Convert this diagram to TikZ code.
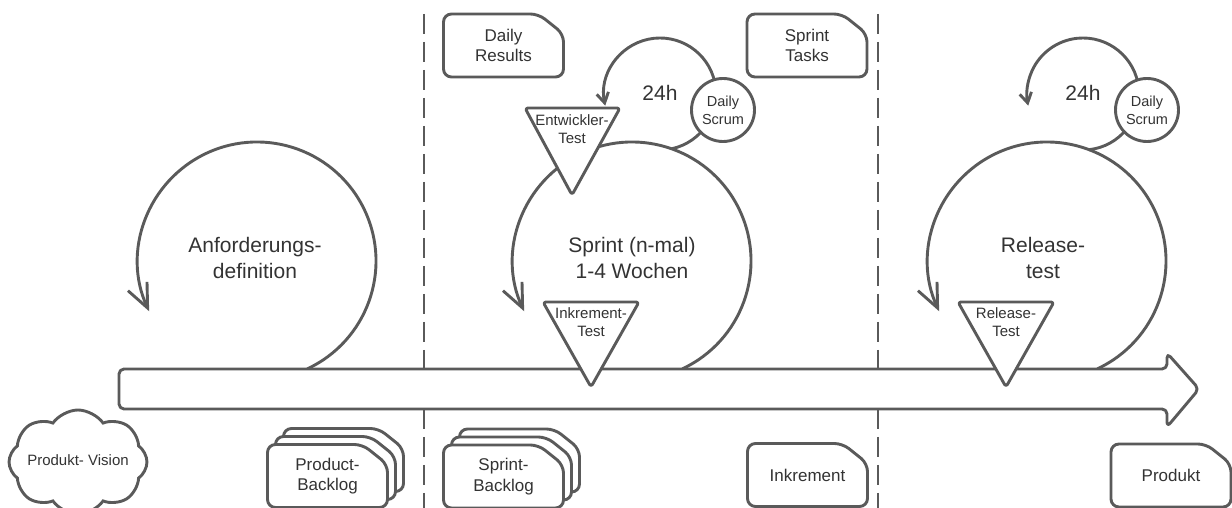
\documentclass[tikz,border=0pt]{standalone}
\usepackage{fontspec}
\setmainfont{Liberation Sans}
\usetikzlibrary{arrows.meta,shapes.symbols}
\definecolor{ink}{RGB}{90,90,90}
\definecolor{txt}{RGB}{51,51,51}

\begin{document}
\begin{tikzpicture}[x=1pt,y=1pt,
  line/.style={draw=ink, line width=2.9pt},
  bigloop/.style={line, -{Straight Barb[length=24pt,width=21pt]}},
  dayloop/.style={line, -{Straight Barb[length=10pt,width=12pt]}},
  sepline/.style={draw=ink, line width=2.2pt, dash pattern=on 20pt off 8pt},
  tri/.style={line, fill=white, rounded corners=3pt, line join=round},
  bigtxt/.style={text=txt, align=center, font=\fontsize{21}{26}\selectfont},
  doctxt/.style={text=txt, align=center, font=\fontsize{17}{20.5}\selectfont},
  smalltxt/.style={text=txt, align=center, font=\fontsize{15}{18}\selectfont, inner sep=0pt},
  scrum/.style={circle, line, fill=white, minimum size=63pt, inner sep=0pt,
    text=txt, align=center, font=\fontsize{14.5}{18}\selectfont},
  pics/docshape/.style={code={
    \draw[line, fill=white, rounded corners=8pt, line join=round]
      (-60,-31.5) -- (-60,31.5) -- (35,31.5) -- (60,11.5) -- (60,-31.5) -- cycle;}}
]
\useasboundingbox (0,0) rectangle (1232,508);

% phase separators (interrupted by the timeline)
\draw[sepline] (424,494) -- (424,139);
\draw[sepline] (424,99) -- (424,0);
\draw[sepline] (878,494) -- (878,139);
\draw[sepline] (878,99) -- (878,0);

% main phase loops
\coordinate (anfC) at (257,247);
\coordinate (sprC) at (632,247);
\coordinate (relC) at (1047,247);
\draw[bigloop] ([shift={(-65:119)}]anfC) arc[start angle=-65, end angle=205, radius=119];
\draw[bigloop] ([shift={(-65:119)}]sprC) arc[start angle=-65, end angle=205, radius=119];
\draw[bigloop] ([shift={(-65:119)}]relC) arc[start angle=-65, end angle=205, radius=119];

% daily loops
\coordinate (daySpr) at (660,414);
\coordinate (dayRel) at (1083,414);
\draw[dayloop] ([shift={(-78:56)}]daySpr) arc[start angle=-78, end angle=192, radius=56];
\draw[dayloop] ([shift={(-84:56)}]dayRel) arc[start angle=-84, end angle=192, radius=56];

\node[scrum] (ds1) at (723,398) {Daily\\Scrum};
\node[scrum] (ds2) at (1147,398) {Daily\\Scrum};
\node[bigtxt] (h1) at (660,415) {24h};
\node[bigtxt] (h2) at (1083,415) {24h};

% developer test
\draw[tri] (525,400) -- (620,400) -- (572,313) -- cycle;
\node[smalltxt] (etest) at (572,379) {Entwickler-\\Test};

% timeline arrow
\draw[line, fill=white, rounded corners=5pt, line join=round]
  (119,99) -- (119,139) -- (1167,139) -- (1167,155) -- (1199,119)
  -- (1167,81) -- (1167,99) -- cycle;

% tests on the timeline
\draw[tri] (543,206) -- (639,206) -- (591,121) -- cycle;
\node[smalltxt] (itest) at (591,186) {Inkrement-\\Test};
\draw[tri] (958,206) -- (1054,206) -- (1006,121) -- cycle;
\node[smalltxt] (rtest) at (1006,186) {Release-\\Test};

% phase titles
\node[bigtxt] (anf) at (255,250) {Anforderungs-\\definition};
\node[bigtxt] (spr) at (632,250) {Sprint (n-mal)\\1-4 Wochen};
\node[bigtxt] (rel) at (1043,250) {Release-\\test};

% artefacts
\path (503.5,462.5) pic{docshape} node[doctxt] (dres) {Daily\\Results};
\path (807,462.5) pic{docshape} node[doctxt] (stask) {Sprint\\Tasks};
\path (807.5,33) pic{docshape} node[doctxt] (inkr) {Inkrement};
\path (1171,32.5) pic{docshape} node[doctxt] (prod) {Produkt};

\path (343.5,48) pic{docshape};
\path (335.5,40) pic{docshape};
\path (327.5,32) pic{docshape} node[doctxt] (pbl) {Product-\\Backlog};

\path (519.5,47.5) pic{docshape};
\path (511.5,39.5) pic{docshape};
\path (503.5,31.5) pic{docshape} node[doctxt] (sbl) {Sprint-\\Backlog};

% vision cloud
\node[cloud, cloud puffs=8, cloud puff arc=110, line, fill=white, minimum width=138pt,
  minimum height=104pt, inner sep=0pt] (cloudshape) at (78,46) {};
\node[text=txt, font=\fontsize{15}{18}\selectfont] (vision) at (78,48) {Produkt- Vision};
\end{tikzpicture}
\end{document}
